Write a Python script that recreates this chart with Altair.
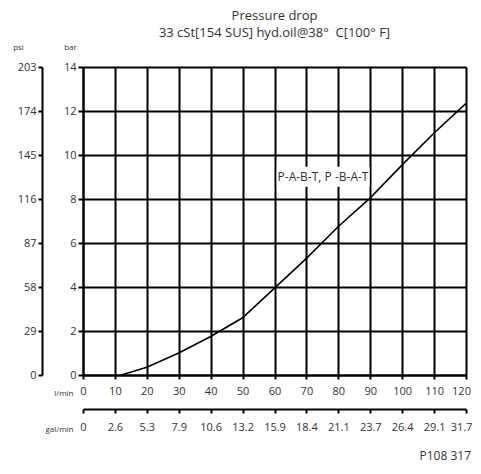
import altair as alt
import pandas as pd

# data
flow_lpm = [12, 20, 30, 40, 50, 60, 70, 80, 90, 100, 110, 120]
dp_bar = [0, 0.35, 1.0, 1.75, 2.6, 3.95, 5.3, 6.75, 8.05, 9.55, 11.0, 12.35]

x_ticks = [0, 10, 20, 30, 40, 50, 60, 70, 80, 90, 100, 110, 120]
gal_labels = ["0", "2.6", "5.3", "7.9", "10.6", "13.2", "15.9", "18.4", "21.1", "23.7", "26.4", "29.1", "31.7"]
y_ticks = [0, 2, 4, 6, 8, 10, 12, 14]
psi_labels = ["0", "29", "58", "87", "116", "145", "174", "203"]

curve_label = "P-A-B-T, P -B-A-T"
label_pos = {"x": 75.2, "y": 9.0, "x0": 60.7, "x1": 89.8, "y0": 8.56, "y1": 9.47}

FONT = "Open Sans"
TXT = "#333333"

curve = pd.DataFrame({"q": flow_lpm, "dp": dp_bar})

gal_expr = "{" + ",".join(f"'{t}':'{g}'" for t, g in zip(x_ticks, gal_labels)) + "}[datum.value]"
psi_expr = "{" + ",".join(f"'{t}':'{p}'" for t, p in zip(y_ticks, psi_labels)) + "}[datum.value]"

xscale = alt.Scale(domain=[0, 120], nice=False, zero=False)
yscale = alt.Scale(domain=[0, 14], nice=False, zero=False)

common_axis = dict(labelFont=FONT, titleFont=FONT, labelColor=TXT, titleColor=TXT,
                   domainColor="black", tickColor="black", domainWidth=2, tickWidth=2)

last_shift = alt.ExprRef(expr="datum.value == 120 ? -5 : 0")

x_main = alt.X("q:Q", scale=xscale, axis=alt.Axis(
    values=x_ticks, title="l/min", orient="bottom", grid=True, gridColor="black", gridWidth=2, gridOpacity=1,
    tickSize=4, labelPadding=6, labelFontSize=11, titleFontSize=8, titleFontWeight="normal",
    titleAngle=0, titleX=-10, titleY=18, titleAlign="right", titleBaseline="middle",
    labelFlush=False, labelOffset=last_shift, **common_axis))
y_main = alt.Y("dp:Q", scale=yscale, axis=alt.Axis(
    values=y_ticks, title="bar", orient="left", grid=True, gridColor="black", gridWidth=2, gridOpacity=1,
    tickSize=5, labelPadding=2, labelFontSize=11, titleFontSize=8, titleFontWeight="normal",
    titleAngle=0, titleX=-13, titleY=-20, titleAlign="center", titleBaseline="middle",
    labelFlush=False, **common_axis))

line = alt.Chart(curve).mark_line(color="black", strokeWidth=1.6).encode(x=x_main, y=y_main)

x_gal = alt.X("q:Q", scale=xscale, axis=alt.Axis(
    values=x_ticks, title="gal/min", orient="bottom", offset=34, grid=False, labelExpr=gal_expr,
    tickSize=4, labelPadding=8, labelFontSize=11, titleFontSize=8, titleFontWeight="normal",
    titleAngle=0, titleX=-10, titleY=20, titleAlign="right", titleBaseline="middle",
    labelFlush=False, labelOffset=last_shift, **common_axis))
y_psi = alt.Y("dp:Q", scale=yscale, axis=alt.Axis(
    values=y_ticks, title="psi", orient="left", offset=41, grid=False, labelExpr=psi_expr,
    tickSize=4, labelPadding=2, labelFontSize=11, titleFontSize=8, titleFontWeight="normal",
    titleAngle=0, titleX=-24, titleY=-20, titleAlign="center", titleBaseline="middle",
    labelFlush=False, **common_axis))

second = alt.Chart(curve).mark_line(opacity=0).encode(x=x_gal, y=y_psi)

box_df = pd.DataFrame([label_pos])
box = alt.Chart(box_df).mark_rect(color="white").encode(
    x=alt.X("x0:Q", scale=xscale, axis=None), x2="x1:Q",
    y=alt.Y("y0:Q", scale=yscale, axis=None), y2="y1:Q")
lbl = alt.Chart(box_df).mark_text(font=FONT, fontSize=12, color=TXT).encode(
    x=alt.X("x:Q", scale=xscale, axis=None), y=alt.Y("y:Q", scale=yscale, axis=None),
    text=alt.value(curve_label))

code = alt.Chart(pd.DataFrame({"t": ["P108 317"]})).mark_text(
    font=FONT, fontSize=12, color=TXT, align="right", baseline="middle").encode(
    x=alt.value(388), y=alt.value(389), text="t:N")

chart = alt.layer(line, second, box, lbl, code).resolve_axis(x="independent", y="independent").properties(
    width=383, height=308,
    autosize=alt.AutoSizeParams(type="none"),
    padding={"left": 75, "top": 59, "right": 7, "bottom": 91},
    title=alt.TitleParams(text=["Pressure drop", "33 cSt[154 SUS] hyd.oil@38°\u00a0\u00a0C[100°\u00a0F]"],
                          font=FONT, fontSize=13, fontWeight="normal", color=TXT,
                          anchor="middle", lineHeight=17, offset=3),
).configure_view(stroke="black", strokeWidth=2).configure(background="white")

chart.save("out.html", embed_options={"renderer": "svg", "actions": False})
